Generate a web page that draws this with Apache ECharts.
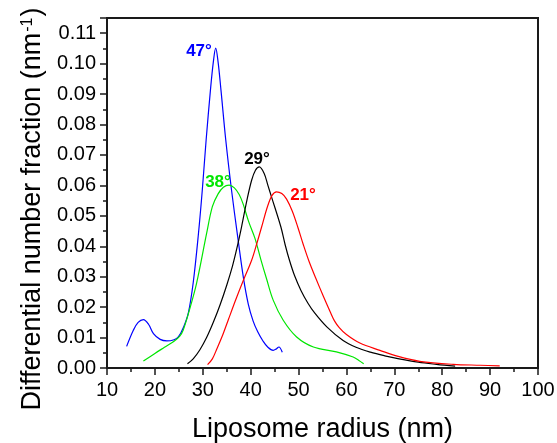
<!DOCTYPE html>
<html>
<head>
<meta charset="utf-8">
<script src="https://cdn.jsdelivr.net/npm/echarts@6/dist/echarts.min.js"></script>
<style>
html,body{margin:0;padding:0;background:#fff;}
#chart{width:557px;height:443px;}
</style>
</head>
<body>
<div id="chart"></div>
<script>
// ---- data (radius nm, differential number fraction nm^-1) ----
const angle47 = [[14.1,0.0071],[15.5,0.0124],[16.5,0.0150],[17.6,0.0159],[18.7,0.0143],[19.7,0.0113],[21.1,0.0094],[22.5,0.0089],[24.0,0.0093],[24.9,0.0102],[26.0,0.0135],[27.0,0.0182],[28.0,0.0280],[29.1,0.0442],[29.9,0.0585],[30.7,0.0749],[31.6,0.0913],[32.2,0.1005],[32.7,0.1051],[33.2,0.1005],[33.8,0.0913],[34.8,0.0749],[36.0,0.0585],[37.3,0.0430],[38.5,0.0295],[39.5,0.0210],[40.5,0.0155],[41.5,0.0118],[42.6,0.0088],[43.6,0.0068],[44.7,0.0058],[45.3,0.0062],[45.9,0.0069],[46.6,0.0052]];
const angle38 = [[17.6,0.0023],[20.0,0.0048],[22.0,0.0068],[24.0,0.0088],[25.2,0.0105],[25.9,0.0124],[27.2,0.0190],[28.7,0.0278],[30.8,0.0442],[32.0,0.0530],[33.2,0.0572],[34.3,0.0594],[35.5,0.0601],[36.6,0.0592],[37.6,0.0570],[38.4,0.0540],[39.6,0.0480],[40.9,0.0426],[42.1,0.0358],[43.3,0.0294],[44.7,0.0223],[46.8,0.0157],[49.6,0.0102],[53.1,0.0069],[57.9,0.0053],[61.4,0.0036],[62.6,0.0025],[63.6,0.0014]];
const angle29 = [[26.8,0.0014],[28.0,0.0030],[29.4,0.0060],[30.8,0.0100],[32.2,0.0150],[33.6,0.0207],[35.0,0.0272],[36.2,0.0335],[37.1,0.0392],[38.1,0.0464],[39.2,0.0550],[40.2,0.0617],[41.0,0.0650],[41.8,0.0661],[42.8,0.0640],[43.6,0.0600],[44.4,0.0560],[46.3,0.0464],[47.2,0.0405],[48.1,0.0354],[49.2,0.0302],[50.5,0.0255],[52.0,0.0212],[53.4,0.0180],[55.9,0.0135],[59.3,0.0090],[62.0,0.0068],[65.0,0.0052],[68.0,0.0040],[71.0,0.0030],[75.0,0.0019],[78.8,0.0012],[82.7,0.0006]];
const angle21 = [[31.0,0.0011],[32.0,0.0030],[33.0,0.0065],[34.2,0.0110],[35.3,0.0157],[36.9,0.0225],[38.5,0.0289],[40.2,0.0354],[41.3,0.0410],[42.3,0.0464],[43.5,0.0530],[44.5,0.0568],[45.4,0.0579],[46.5,0.0573],[47.5,0.0555],[48.7,0.0515],[49.9,0.0460],[51.0,0.0405],[52.2,0.0350],[53.6,0.0295],[55.2,0.0235],[56.6,0.0185],[57.5,0.0155],[58.5,0.0133],[60.0,0.0110],[62.8,0.0082],[67.0,0.0058],[70.8,0.0038],[75.3,0.0022],[82.3,0.0012],[88.0,0.0009],[92.0,0.0007]];

const seriesNames = ['47°','38°','29°','21°'];
const seriesData = [angle47, angle38, angle29, angle21];
const xTickMin = 10, xTickMax = 100, xTickStep = 10;
const yTickMin = 0, yTickMax = 0.115, yTickStep = 0.01;

// ---- styles / layout ----
const colors = ['#0000ff', '#00e600', '#000000', '#ff0000'];
const labelPos = [[199, 51], [218, 182], [257, 159], [303, 195]];
const FONT = '"Liberation Sans", Arial, sans-serif';

const chart = echarts.init(document.getElementById('chart'));

const series = seriesData.map((d, i) => ({
  type: 'line',
  name: seriesNames[i],
  data: d,
  showSymbol: false,
  smooth: 0.35,
  lineStyle: { color: colors[i], width: 1.2 },
  itemStyle: { color: colors[i] },
  silent: true,
  animation: false
}));

const axisCommon = {
  axisLine: { show: true, onZero: false, lineStyle: { color: '#1a1a1a', width: 2 } },
  axisTick: { show: true, inside: false, length: 7, lineStyle: { color: '#1a1a1a', width: 1.5 } },
  minorTick: { show: true, splitNumber: 2, length: 4, lineStyle: { color: '#1a1a1a', width: 1.5 } },
  splitLine: { show: false },
  minorSplitLine: { show: false },
  axisLabel: { color: '#000', fontSize: 20, fontFamily: FONT }
};

chart.setOption({
  animation: false,
  backgroundColor: '#fff',
  grid: {
    left: 107, right: 19, top: 18, bottom: 75,
    containLabel: false,
    outerBoundsMode: 'none',
    show: true, borderColor: '#1a1a1a', borderWidth: 2, backgroundColor: 'transparent'
  },
  xAxis: Object.assign({}, axisCommon, {
    type: 'value',
    min: xTickMin, max: xTickMax, interval: xTickStep,
    axisLabel: Object.assign({}, axisCommon.axisLabel, { margin: 12 }),
    name: 'Liposome radius (nm)',
    nameLocation: 'middle',
    nameGap: 48,
    nameTextStyle: { color: '#000', fontSize: 27, fontFamily: FONT }
  }),
  yAxis: Object.assign({}, axisCommon, {
    type: 'value',
    min: yTickMin, max: yTickMax, interval: yTickStep,
    axisLabel: Object.assign({}, axisCommon.axisLabel, {
      margin: 11,
      showMaxLabel: false,
      formatter: v => (Math.abs(v / yTickStep - Math.round(v / yTickStep)) < 1e-6 ? v.toFixed(2) : '')
    }),
    name: '{m|Differential number fraction (nm}{s|-1}{m|)}',
    nameLocation: 'middle',
    nameGap: 60,
    nameRotate: 90,
    nameTextStyle: {
      color: '#000', fontSize: 27, fontFamily: FONT,
      padding: [0, 32, 0, 0],
      rich: {
        m: { fontSize: 27, fontFamily: FONT, color: '#000' },
        s: { fontSize: 16, fontFamily: FONT, color: '#000', verticalAlign: 'top', padding: [0, 1, 0, 1] }
      }
    }
  }),
  graphic: seriesNames.map((n, i) => ({
    type: 'text',
    x: labelPos[i][0], y: labelPos[i][1],
    style: {
      text: n, fill: colors[i], font: 'bold 17px ' + FONT,
      textAlign: 'center', textVerticalAlign: 'middle'
    },
    silent: true
  })),
  series: series
});
</script>
</body>
</html>
